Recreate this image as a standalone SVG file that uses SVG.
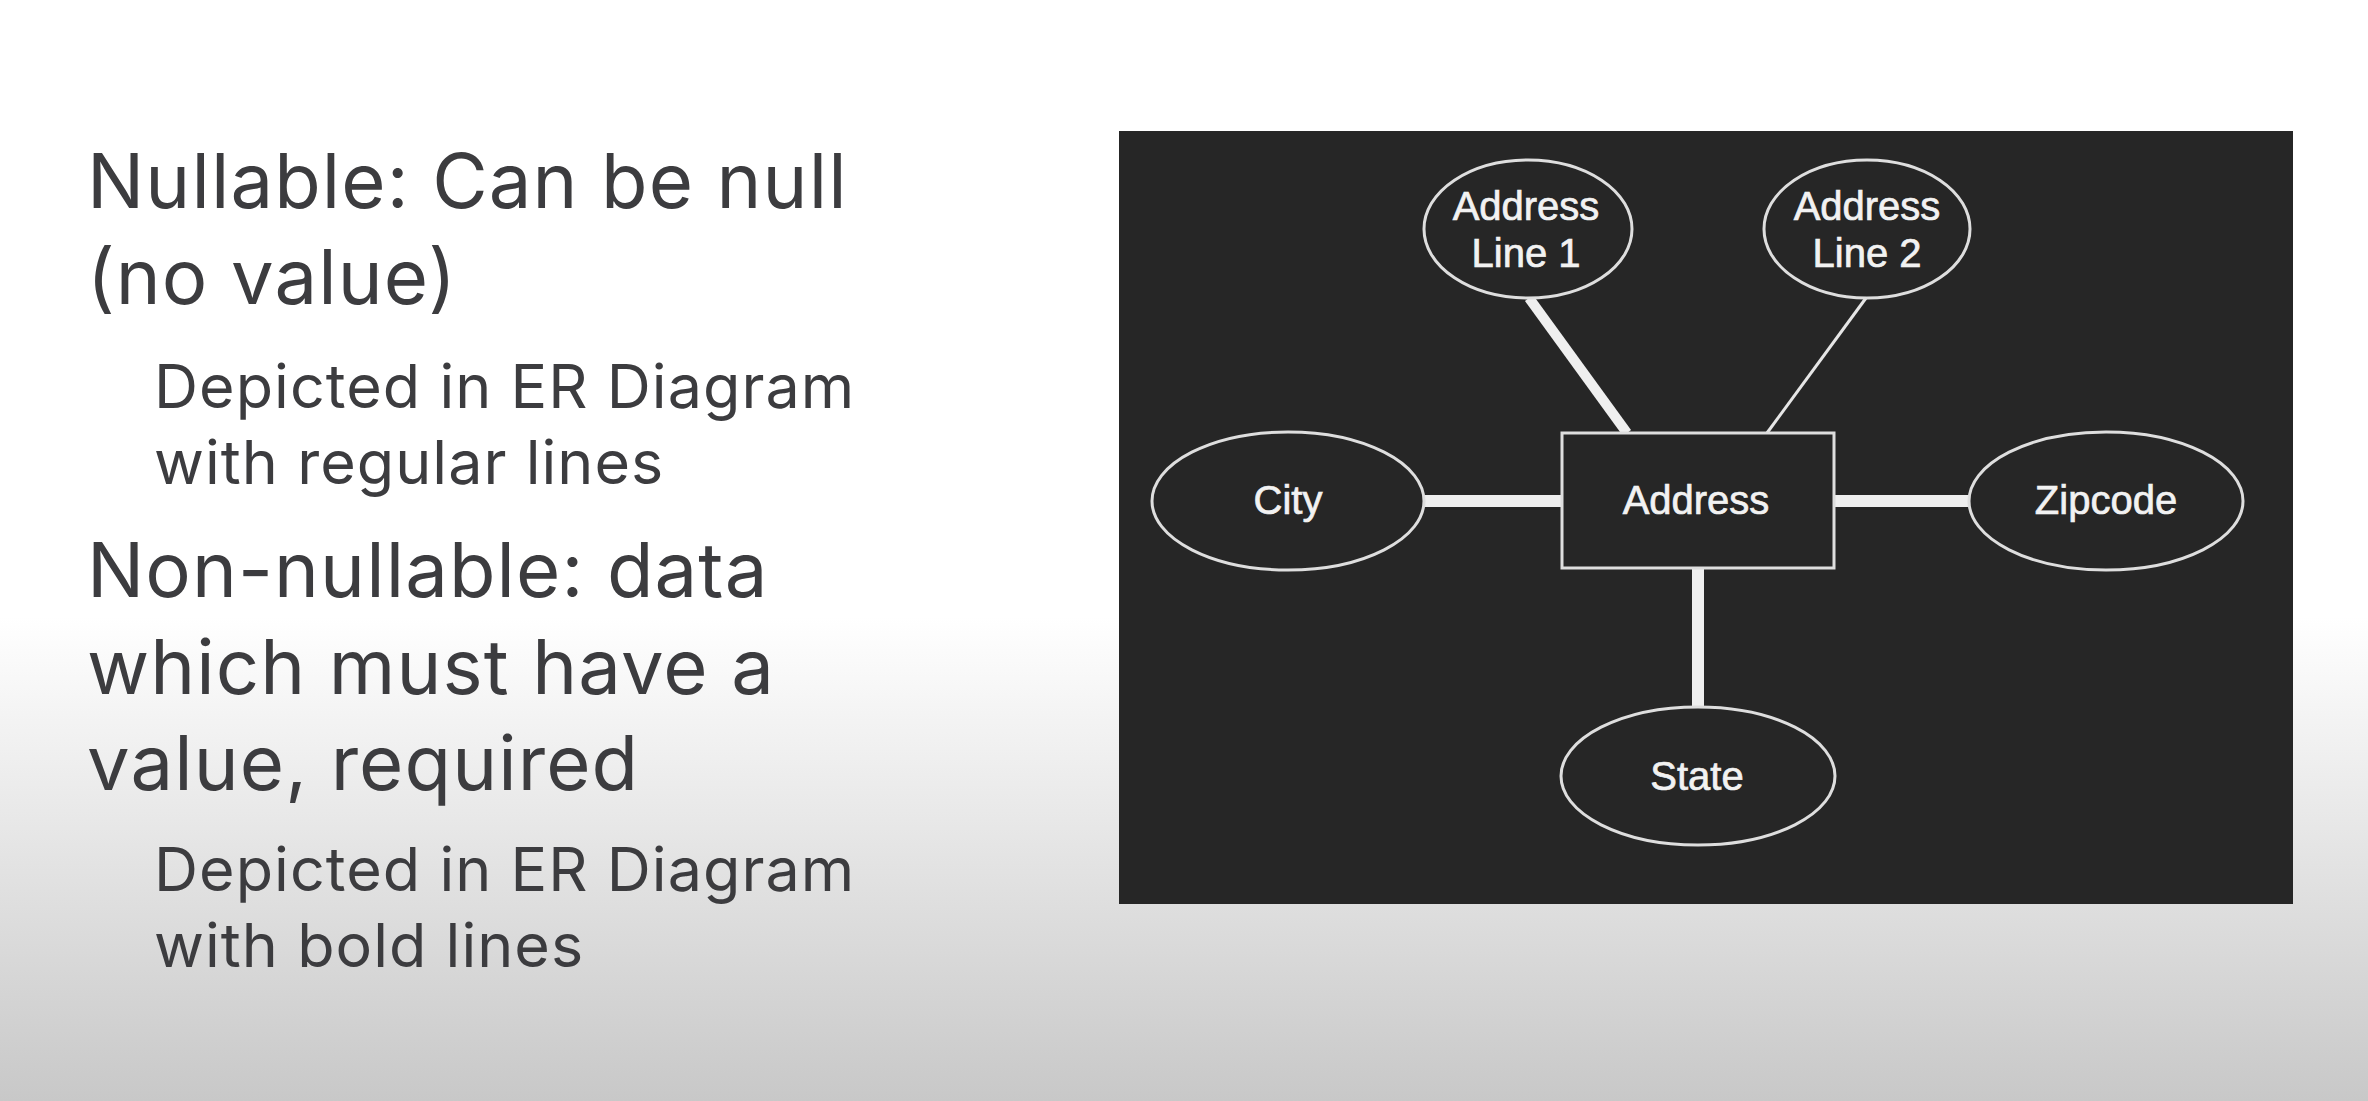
<svg xmlns="http://www.w3.org/2000/svg" width="2368" height="1101" viewBox="0 0 2368 1101">
<defs>
<linearGradient id="bg" x1="0" y1="0" x2="0" y2="1">
<stop offset="0" stop-color="#ffffff"/>
<stop offset="0.56" stop-color="#ffffff"/>
<stop offset="1" stop-color="#c8c8c8"/>
</linearGradient>
<style>
.main{font-family:Inter,"Liberation Sans",sans-serif;font-size:76px;letter-spacing:1.1px;fill:#3c3c3f}
.sub{font-family:Inter,"Liberation Sans",sans-serif;font-size:61px;letter-spacing:1.05px;fill:#3c3c3f}
.shape{fill:#262626;stroke:#dedede;stroke-width:3}
.lbl{font-family:"Liberation Sans",Arial,sans-serif;font-size:40px;fill:#f2f2f2;stroke:#f2f2f2;stroke-width:0.7px;text-anchor:middle}
.bold{stroke:#efefef;stroke-width:12;fill:none}
.thin{stroke:#e6e6e6;stroke-width:3;fill:none}
</style>
</defs>
<rect x="0" y="0" width="2368" height="1101" fill="url(#bg)"/>
<g id="text">
<text class="main" x="87" y="208">Nullable: Can be null</text>
<text class="main" x="87" y="304">(no value)</text>
<text class="sub" x="154" y="408">Depicted in ER Diagram</text>
<text class="sub" x="154" y="484">with regular lines</text>
<text class="main" x="87" y="597">Non-nullable: data</text>
<text class="main" x="87" y="694">which must have a</text>
<text class="main" x="87" y="790">value, required</text>
<text class="sub" x="154" y="891">Depicted in ER Diagram</text>
<text class="sub" x="154" y="967">with bold lines</text>
</g>
<rect id="panel" x="1119" y="131" width="1174" height="773" fill="#262626"/>
<g id="connectors">
<line class="bold" x1="1529" y1="298" x2="1627" y2="433" style="stroke-width:10"/>
<line class="thin" x1="1866" y1="298" x2="1767" y2="433"/>
<line class="bold" x1="1424" y1="501" x2="1562" y2="501"/>
<line class="bold" x1="1834" y1="501" x2="1970" y2="501"/>
<line class="bold" x1="1698" y1="568" x2="1698" y2="707"/>
</g>
<g id="address-line-1">
<ellipse class="shape" cx="1528" cy="229" rx="104" ry="69"/>
<text class="lbl" x="1526" y="220">Address</text>
<text class="lbl" x="1526" y="267">Line 1</text>
</g>
<g id="address-line-2">
<ellipse class="shape" cx="1867" cy="229" rx="103" ry="69"/>
<text class="lbl" x="1867" y="220">Address</text>
<text class="lbl" x="1867" y="267">Line 2</text>
</g>
<g id="city">
<ellipse class="shape" cx="1288" cy="501" rx="136" ry="69"/>
<text class="lbl" x="1288" y="514">City</text>
</g>
<g id="address">
<rect class="shape" x="1562" y="433" width="272" height="135"/>
<text class="lbl" x="1696" y="514">Address</text>
</g>
<g id="zipcode">
<ellipse class="shape" cx="2106" cy="501" rx="137" ry="69"/>
<text class="lbl" x="2106" y="514">Zipcode</text>
</g>
<g id="state">
<ellipse class="shape" cx="1698" cy="776" rx="137" ry="69"/>
<text class="lbl" x="1697" y="790">State</text>
</g>
</svg>
